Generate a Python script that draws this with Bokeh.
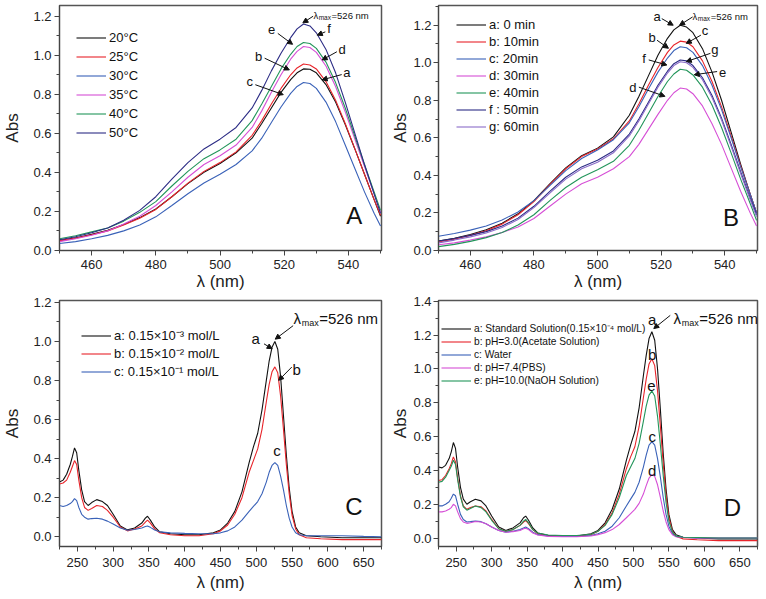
from bokeh.plotting import figure
from bokeh.layouts import gridplot
from bokeh.models import (Legend, LegendItem, Label, Arrow, NormalHead,
                          SingleIntervalTicker, PrintfTickFormatter, Range1d)
from bokeh.embed import file_html
from bokeh.resources import INLINE

FONT = "Liberation Sans"

# ---------------- data ----------------
wl_AB = [450, 455, 460, 465, 470, 475, 480, 485, 490, 495,
         500, 505, 510, 513, 516, 519, 522, 524, 526, 528,
         530, 533, 536, 539, 542, 545, 548, 550]

# Panel A (temperature)
A_labels = ["20°C", "25°C", "30°C", "35°C", "40°C", "50°C"]
A_20 = [0.05, 0.064, 0.082, 0.103, 0.133, 0.168, 0.212, 0.275, 0.342, 0.40,
        0.445, 0.50, 0.575, 0.65, 0.73, 0.81, 0.875, 0.91, 0.93, 0.928,
        0.91, 0.85, 0.76, 0.645, 0.52, 0.39, 0.26, 0.175]
A_25 = [0.05, 0.062, 0.08, 0.10, 0.13, 0.165, 0.21, 0.275, 0.345, 0.405,
        0.45, 0.505, 0.59, 0.665, 0.75, 0.83, 0.90, 0.935, 0.955, 0.95,
        0.93, 0.865, 0.77, 0.65, 0.52, 0.39, 0.26, 0.18]
A_30 = [0.035, 0.045, 0.06, 0.077, 0.10, 0.13, 0.172, 0.23, 0.29, 0.345,
        0.39, 0.44, 0.51, 0.575, 0.655, 0.735, 0.805, 0.84, 0.86, 0.855,
        0.83, 0.76, 0.66, 0.54, 0.42, 0.30, 0.19, 0.125]
A_35 = [0.045, 0.06, 0.078, 0.10, 0.135, 0.175, 0.23, 0.30, 0.375, 0.44,
        0.485, 0.54, 0.63, 0.715, 0.81, 0.90, 0.98, 1.02, 1.045, 1.04,
        1.015, 0.945, 0.84, 0.71, 0.57, 0.43, 0.29, 0.195]
A_40 = [0.06, 0.075, 0.095, 0.115, 0.15, 0.195, 0.25, 0.33, 0.405, 0.47,
        0.515, 0.57, 0.665, 0.75, 0.84, 0.93, 1.005, 1.045, 1.065, 1.06,
        1.035, 0.965, 0.86, 0.73, 0.585, 0.44, 0.30, 0.205]
A_50 = [0.055, 0.07, 0.09, 0.115, 0.155, 0.205, 0.275, 0.365, 0.45, 0.52,
        0.57, 0.63, 0.73, 0.82, 0.92, 1.01, 1.09, 1.135, 1.16, 1.15,
        1.115, 1.03, 0.91, 0.76, 0.60, 0.44, 0.29, 0.19]

# Panel B (time)
B_labels = ["a: 0 min", "b: 10min", "c: 20min", "d: 30min", "e: 40min", "f : 50min", "g: 60min"]
B_0 = [0.05, 0.065, 0.085, 0.11, 0.145, 0.195, 0.265, 0.355, 0.44, 0.505,
       0.545, 0.605, 0.72, 0.82, 0.93, 1.04, 1.13, 1.175, 1.20, 1.19,
       1.16, 1.075, 0.95, 0.80, 0.63, 0.46, 0.30, 0.20]
B_10 = [0.045, 0.06, 0.08, 0.105, 0.14, 0.19, 0.26, 0.35, 0.435, 0.50,
        0.54, 0.595, 0.69, 0.78, 0.88, 0.975, 1.055, 1.095, 1.115, 1.11,
        1.085, 1.01, 0.90, 0.765, 0.61, 0.45, 0.30, 0.20]
B_20 = [0.075, 0.09, 0.108, 0.13, 0.162, 0.205, 0.265, 0.345, 0.425, 0.49,
        0.535, 0.59, 0.68, 0.765, 0.86, 0.95, 1.025, 1.065, 1.085, 1.08,
        1.055, 0.985, 0.88, 0.75, 0.60, 0.445, 0.30, 0.20]
B_30 = [0.03, 0.04, 0.055, 0.072, 0.095, 0.125, 0.17, 0.235, 0.30, 0.355,
        0.39, 0.435, 0.50, 0.565, 0.645, 0.725, 0.80, 0.84, 0.865, 0.86,
        0.835, 0.77, 0.675, 0.565, 0.44, 0.315, 0.20, 0.13]
B_40 = [0.02, 0.032, 0.048, 0.068, 0.095, 0.135, 0.19, 0.265, 0.335, 0.39,
        0.43, 0.475, 0.56, 0.64, 0.73, 0.82, 0.90, 0.94, 0.965, 0.96,
        0.935, 0.87, 0.775, 0.655, 0.52, 0.38, 0.25, 0.16]
B_50 = [0.05, 0.063, 0.08, 0.10, 0.13, 0.172, 0.235, 0.315, 0.39, 0.445,
        0.48, 0.53, 0.62, 0.70, 0.79, 0.88, 0.955, 0.995, 1.015, 1.01,
        0.985, 0.92, 0.825, 0.705, 0.565, 0.42, 0.28, 0.19]
B_60 = [0.04, 0.055, 0.072, 0.093, 0.122, 0.165, 0.228, 0.305, 0.38, 0.435,
        0.47, 0.52, 0.61, 0.69, 0.78, 0.87, 0.945, 0.985, 1.005, 1.00,
        0.975, 0.91, 0.815, 0.695, 0.555, 0.41, 0.27, 0.18]

wl_CD = [225, 230, 235, 240, 243, 246, 249, 252, 256, 260,
         265, 270, 277, 285, 292, 300, 310, 320, 330, 340,
         345, 348, 352, 358, 365, 380, 400, 420, 440, 450,
         460, 470, 480, 490, 496, 502, 508, 514, 518, 522,
         526, 530, 534, 538, 542, 546, 550, 555, 560, 570,
         590, 620, 650, 675]

# Panel C (concentration)
C_labels = ["a: 0.15×10⁻³ mol/L", "b: 0.15×10⁻² mol/L", "c: 0.15×10⁻¹ mol/L"]
C_a = [0.28, 0.29, 0.32, 0.37, 0.41, 0.455, 0.43, 0.34, 0.24, 0.18,
       0.16, 0.175, 0.19, 0.18, 0.16, 0.115, 0.055, 0.035, 0.045, 0.07,
       0.095, 0.105, 0.085, 0.05, 0.025, 0.015, 0.01, 0.01, 0.02, 0.035,
       0.07, 0.13, 0.23, 0.38, 0.46, 0.53, 0.65, 0.80, 0.90, 0.97,
       1.00, 0.96, 0.82, 0.62, 0.42, 0.25, 0.13, 0.05, 0.02, 0.005,
       0.0, -0.005, -0.005, -0.005]
C_b = [0.27, 0.275, 0.29, 0.33, 0.36, 0.39, 0.37, 0.29, 0.20, 0.15,
       0.135, 0.145, 0.16, 0.155, 0.135, 0.10, 0.05, 0.03, 0.04, 0.055,
       0.075, 0.085, 0.07, 0.04, 0.02, 0.01, 0.005, 0.005, 0.015, 0.03,
       0.06, 0.115, 0.20, 0.33, 0.39, 0.45, 0.55, 0.69, 0.78, 0.845,
       0.87, 0.84, 0.72, 0.55, 0.37, 0.22, 0.11, 0.04, 0.01, -0.005,
       -0.01, -0.015, -0.015, -0.015]
C_c = [0.16, 0.155, 0.16, 0.17, 0.18, 0.195, 0.185, 0.15, 0.115, 0.10,
       0.09, 0.093, 0.095, 0.09, 0.08, 0.065, 0.045, 0.033, 0.037, 0.045,
       0.052, 0.055, 0.048, 0.035, 0.025, 0.02, 0.017, 0.015, 0.015, 0.02,
       0.03, 0.05, 0.085, 0.13, 0.155, 0.18, 0.22, 0.28, 0.33, 0.365,
       0.38, 0.365, 0.31, 0.24, 0.16, 0.095, 0.05, 0.02, 0.01, 0.005,
       0.005, 0.005, 0.002, 0.0]

# Panel D (medium)
D_labels = ["a: Standard Solution(0.15×10⁻⁴ mol/L)", "b: pH=3.0(Acetate Solution)",
            "c: Water", "d: pH=7.4(PBS)", "e: pH=10.0(NaOH Solution)"]
D_a = [0.42, 0.415, 0.43, 0.47, 0.51, 0.565, 0.53, 0.42, 0.30, 0.23,
       0.20, 0.215, 0.23, 0.22, 0.19, 0.13, 0.065, 0.045, 0.06, 0.09,
       0.12, 0.13, 0.105, 0.06, 0.03, 0.015, 0.012, 0.012, 0.025, 0.045,
       0.09, 0.17, 0.29, 0.46, 0.55, 0.63, 0.77, 0.96, 1.08, 1.18,
       1.22, 1.17, 1.00, 0.76, 0.50, 0.29, 0.14, 0.05, 0.02, 0.005,
       0.0, -0.005, -0.005, -0.005]
D_b = [0.34, 0.345, 0.37, 0.41, 0.44, 0.48, 0.45, 0.355, 0.25, 0.19,
       0.17, 0.18, 0.19, 0.185, 0.16, 0.11, 0.055, 0.04, 0.05, 0.075,
       0.095, 0.105, 0.085, 0.05, 0.025, 0.012, 0.01, 0.01, 0.02, 0.04,
       0.08, 0.15, 0.26, 0.41, 0.48, 0.54, 0.66, 0.83, 0.94, 1.03,
       1.06, 1.02, 0.87, 0.66, 0.44, 0.25, 0.12, 0.04, 0.01, -0.005,
       -0.01, -0.015, -0.015, -0.015]
D_c = [0.19, 0.19, 0.20, 0.215, 0.235, 0.26, 0.25, 0.20, 0.14, 0.11,
       0.095, 0.097, 0.10, 0.097, 0.085, 0.065, 0.045, 0.035, 0.04, 0.05,
       0.06, 0.065, 0.055, 0.035, 0.02, 0.012, 0.01, 0.01, 0.015, 0.025,
       0.04, 0.07, 0.12, 0.19, 0.23, 0.27, 0.33, 0.42, 0.49, 0.55,
       0.57, 0.55, 0.47, 0.36, 0.24, 0.14, 0.07, 0.025, 0.01, 0.005,
       0.0, 0.0, 0.0, 0.0]
D_d = [0.155, 0.155, 0.16, 0.17, 0.18, 0.20, 0.19, 0.155, 0.115, 0.095,
       0.087, 0.09, 0.098, 0.095, 0.085, 0.065, 0.045, 0.035, 0.038, 0.045,
       0.055, 0.058, 0.05, 0.03, 0.018, 0.01, 0.008, 0.008, 0.012, 0.02,
       0.032, 0.05, 0.08, 0.12, 0.145, 0.17, 0.205, 0.26, 0.31, 0.355,
       0.375, 0.365, 0.315, 0.24, 0.16, 0.095, 0.05, 0.02, 0.008, 0.003,
       0.0, 0.0, 0.0, 0.0]
D_e = [0.33, 0.335, 0.36, 0.40, 0.425, 0.46, 0.435, 0.345, 0.245, 0.185,
       0.165, 0.175, 0.19, 0.18, 0.155, 0.105, 0.055, 0.04, 0.05, 0.075,
       0.10, 0.11, 0.09, 0.05, 0.03, 0.018, 0.015, 0.015, 0.022, 0.04,
       0.075, 0.14, 0.24, 0.37, 0.42, 0.47, 0.56, 0.69, 0.78, 0.845,
       0.87, 0.84, 0.72, 0.55, 0.37, 0.21, 0.10, 0.035, 0.012, 0.005,
       0.003, 0.0, 0.0, 0.0]

BLACK = "#111111"
RED = "#e8242a"
BLUE = "#3a62b8"
MAGENTA = "#d64fd6"
GREEN = "#22955a"
NAVY = "#2c2c85"
PURPLE = "#8a6cc8"


def make_fig(w, h, xr, yr, bl, br, bt, bb, xint, yint, ylab_standoff, ytick_standoff,
             xtick_standoff, xlab_standoff):
    p = figure(width=w, height=h, x_range=Range1d(*xr), y_range=Range1d(*yr),
               output_backend="svg", toolbar_location=None,
               min_border_left=bl, min_border_right=br,
               min_border_top=bt, min_border_bottom=bb)
    p.grid.visible = False
    p.outline_line_color = "#555555"
    p.outline_line_width = 1.5
    p.xaxis.ticker = SingleIntervalTicker(interval=xint, num_minor_ticks=2)
    p.yaxis.ticker = SingleIntervalTicker(interval=yint, num_minor_ticks=2)
    p.yaxis.formatter = PrintfTickFormatter(format="%.1f")
    for ax in (p.xaxis[0], p.yaxis[0]):
        ax.major_tick_out = 5
        ax.major_tick_in = 0
        ax.minor_tick_out = 3
        ax.minor_tick_in = 0
        ax.major_tick_line_color = "#444444"
        ax.minor_tick_line_color = "#444444"
        ax.axis_line_color = "#444444"
        ax.major_label_text_font = FONT
        ax.major_label_text_font_size = "13px"
        ax.major_label_text_color = "#222222"
        ax.axis_label_text_font = FONT
        ax.axis_label_text_font_size = "17px"
        ax.axis_label_text_font_style = "normal"
        ax.axis_label_text_color = "#222222"
    p.xaxis.major_label_standoff = xtick_standoff
    p.xaxis.axis_label_standoff = xlab_standoff
    p.yaxis.major_label_standoff = ytick_standoff
    p.yaxis.axis_label_standoff = ylab_standoff
    p.xaxis.axis_label = "λ (nm)"
    p.yaxis.axis_label = "Abs"
    return p


def add_legend(p, renderers, labels, x, y_bottom, h, size):
    items = [LegendItem(label=l, renderers=[r]) for l, r in zip(labels, renderers)]
    leg = Legend(items=items, location=(x, y_bottom), glyph_width=30,
                 glyph_height=int(h), label_height=int(h), spacing=0, padding=0,
                 margin=0, label_standoff=3, border_line_color=None,
                 background_fill_alpha=0, label_text_font=FONT,
                 label_text_font_size=size, label_text_color="#111111")
    p.add_layout(leg)


def note(p, x, y, t, size="13px", align="center"):
    p.add_layout(Label(x=x, y=y, text=t, text_font=FONT, text_font_size=size,
                       text_align=align, text_baseline="middle", text_color="#111111"))


def arrow(p, x0, y0, x1, y1):
    p.add_layout(Arrow(end=NormalHead(size=5, fill_color="#111111", line_color="#111111"),
                       x_start=x0, y_start=y0, x_end=x1, y_end=y1,
                       line_color="#111111", line_width=1))


def lam_max(p, x, y, big, small, wl, sub_dy):
    note(p, x, y, "λ", f"{big}px", "left")
    lam_w = big * 0.55
    p.add_layout(Label(x=x, y=y, x_offset=lam_w, y_offset=-sub_dy, text="max",
                       text_font=FONT, text_font_size=f"{small}px",
                       text_align="left", text_baseline="middle", text_color="#111111"))
    p.add_layout(Label(x=x, y=y, x_offset=lam_w + small * 1.9 + 0.5,
                       text=f"={wl} nm", text_font=FONT, text_font_size=f"{big}px",
                       text_align="left", text_baseline="middle", text_color="#111111"))


# ---------------- panel A ----------------
pA = make_fig(388, 293, (450, 550.3), (-0.0005, 1.255), 55, 7, 5, 41, 20, 0.2, 8, 3, 4, 0)
rA = []
for ys, c in zip([A_20, A_25, A_30, A_35, A_40, A_50], [BLACK, RED, BLUE, MAGENTA, GREEN, NAVY]):
    rA.append(pA.line(wl_AB, ys, line_color=c, line_width=1.1))
add_legend(pA, rA, A_labels, 17, 108, 19, "13px")
lam_max(pA, 529.1, 1.205, 9.5, 6.5, 526, 2)
arrow(pA, 529.0, 1.20, 525.8, 1.166)
for lab, (tx, ty), (x0, y0), (x1, y1) in [
        ("e", (516.1, 1.13), (518.0, 1.112), (522.6, 1.056)),
        ("f", (534.0, 1.135), (532.8, 1.12), (530.3, 1.103)),
        ("d", (538.0, 1.03), (536.4, 1.018), (531.8, 0.976)),
        ("b", (512.0, 0.996), (513.9, 0.985), (521.6, 0.925)),
        ("a", (539.5, 0.91), (537.9, 0.901), (531.8, 0.874)),
        ("c", (509.3, 0.866), (511.0, 0.849), (519.7, 0.798))]:
    note(pA, tx, ty, lab, "13px")
    arrow(pA, x0, y0, x1, y1)
note(pA, 541.8, 0.18, "A", "24px")

# ---------------- panel B ----------------
pB = make_fig(378, 293, (450, 550.3), (-0.0005, 1.305), 44, 7, 5, 41, 20, 0.2, 0, 2, 4, 0)
rB = []
for ys, c in zip([B_0, B_10, B_20, B_30, B_40, B_50, B_60],
                 [BLACK, RED, BLUE, MAGENTA, GREEN, NAVY, PURPLE]):
    rB.append(pB.line(wl_AB, ys, line_color=c, line_width=1.1))
add_legend(pB, rB, B_labels, 18, 115, 17.2, "13px")
lam_max(pB, 529.9, 1.247, 9.5, 6.5, 526, 2)
arrow(pB, 529.9, 1.244, 525.8, 1.2)
for lab, (tx, ty), (x0, y0), (x1, y1) in [
        ("a", (518.7, 1.247), (520.2, 1.235), (523.8, 1.2)),
        ("c", (533.8, 1.17), (532.5, 1.147), (527.9, 1.103)),
        ("b", (517.2, 1.135), (518.7, 1.12), (522.3, 1.077)),
        ("g", (536.9, 1.068), (535.5, 1.05), (527.9, 1.006)),
        ("f", (514.6, 1.024), (516.1, 1.015), (521.8, 0.988)),
        ("e", (539.3, 0.948), (537.6, 0.953), (530.4, 0.936)),
        ("d", (511.1, 0.87), (513.0, 0.87), (521.2, 0.821))]:
    note(pB, tx, ty, lab, "13px")
    arrow(pB, x0, y0, x1, y1)
note(pB, 542.0, 0.178, "B", "24px")

# ---------------- panel C ----------------
pC = make_fig(388, 306, (225, 675), (-0.05, 1.21), 55, 5, 7, 52, 50, 0.2, 8, 3, 6, 3)
rC = []
for ys, c in zip([C_a, C_b, C_c], [BLACK, RED, BLUE]):
    rC.append(pC.line(wl_CD, ys, line_color=c, line_width=1.1))
add_legend(pC, rC, C_labels, 22, 166, 17.2, "13px")
lam_max(pC, 551.9, 1.116, 15, 9, 526, 4)
arrow(pC, 551.5, 1.081, 526.5, 1.012)
note(pC, 499.3, 1.014, "a", "15px")
arrow(pC, 510.8, 0.988, 522.2, 0.963)
note(pC, 556.5, 0.857, "b", "15px")
arrow(pC, 549.6, 0.869, 531.3, 0.801)
note(pC, 529.1, 0.44, "c", "15px")
note(pC, 636.5, 0.156, "C", "24px")

# ---------------- panel D ----------------
pD = make_fig(378, 306, (225, 675), (-0.05, 1.405), 44, 9, 7, 53, 50, 0.2, 0, 2, 6, 3)
rD = []
for ys, c in zip([D_a, D_b, D_c, D_d, D_e], [BLACK, RED, BLUE, MAGENTA, GREEN]):
    rD.append(pD.line(wl_CD, ys, line_color=c, line_width=1.1))
add_legend(pD, rD, D_labels, 3, 159, 13.4, "10.2px")
lam_max(pD, 556.4, 1.298, 15, 9, 526, 4)
arrow(pD, 551.9, 1.317, 528.7, 1.239)
for lab, (tx, ty) in [("a", (526.5, 1.294)), ("b", (526.5, 1.085)), ("e", (525.5, 0.90)),
                      ("c", (526.5, 0.598)), ("d", (526.5, 0.40))]:
    note(pD, tx, ty, lab, "15px")
note(pD, 639.5, 0.183, "D", "24px")

grid = gridplot([[pA, pB], [pC, pD]], toolbar_location=None)
open("out.html", "w").write(file_html(grid, INLINE))
